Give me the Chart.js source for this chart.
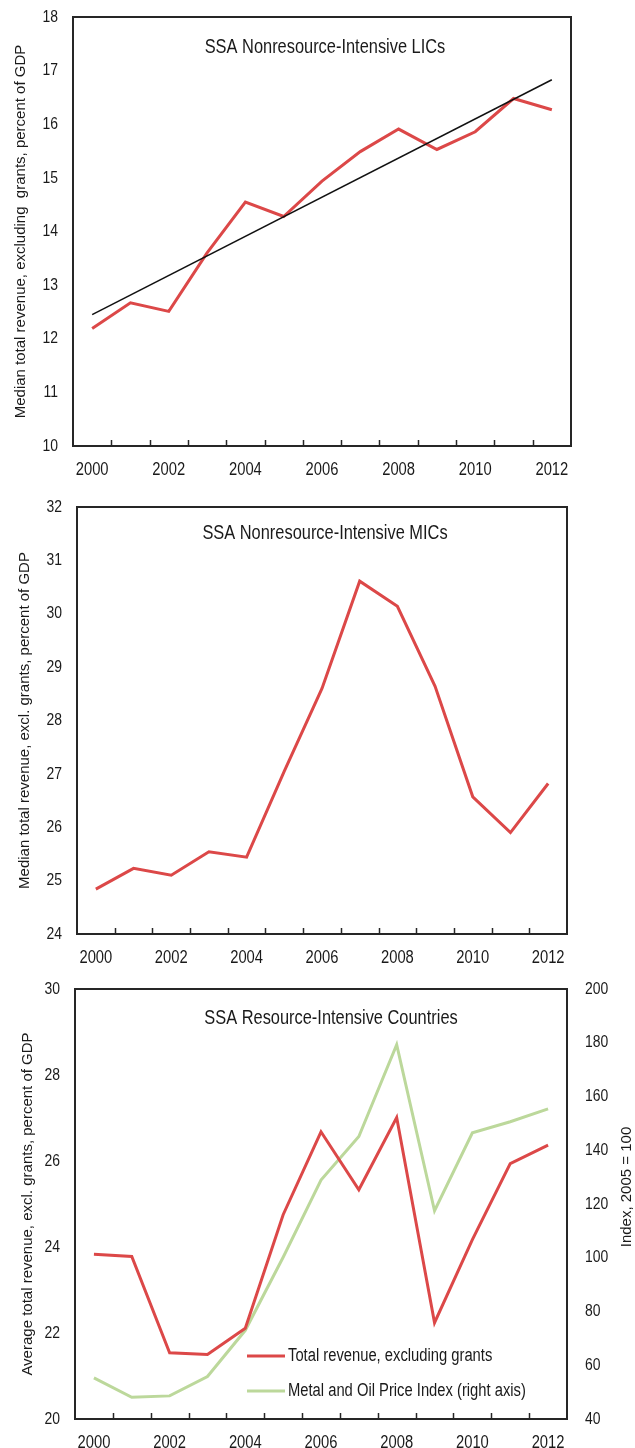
<!DOCTYPE html>
<html><head><meta charset="utf-8">
<script src="https://cdn.jsdelivr.net/npm/chart.js@4.4.1/dist/chart.umd.min.js"></script>
<style>
html,body{margin:0;padding:0;background:#fff;}
#wrap{position:relative;width:635px;height:1448px;overflow:hidden;background:#fff;}
.panel{position:absolute;left:0;width:635px;}
</style></head><body>
<div id="wrap">
<div class="panel" style="top:0;height:485px"><canvas id="c1" width="635" height="485"></canvas></div>
<div class="panel" style="top:485px;height:485px"><canvas id="c2" width="635" height="485"></canvas></div>
<div class="panel" style="top:970px;height:478px"><canvas id="c3" width="635" height="478"></canvas></div>
</div>
<script>
// ---------- data ----------
const years = ['2000','2001','2002','2003','2004','2005','2006','2007','2008','2009','2010','2011','2012'];

const licRevenue = [12.19, 12.67, 12.51, 13.6, 14.55, 14.28, 14.94, 15.49, 15.91, 15.53, 15.86, 16.48, 16.27];
const licTrend   = [12.45, null, null, null, null, null, null, null, null, null, null, null, 16.83];

const micRevenue = [24.84, 25.23, 25.10, 25.54, 25.44, 27.05, 28.60, 30.61, 30.14, 28.64, 26.57, 25.90, 26.82];

const resRevenue = [23.83, 23.78, 21.54, 21.50, 22.11, 24.75, 26.68, 25.33, 27.01, 22.24, 24.17, 25.94, 26.37];
const priceIndex = [55.3, 48.1, 48.6, 55.8, 73.0, 100.2, 128.9, 145.1, 179.3, 117.5, 146.5, 150.6, 155.4];

const titles = ['SSA Nonresource-Intensive LICs', 'SSA Nonresource-Intensive MICs', 'SSA Resource-Intensive Countries'];
const yTitles = ['Median total revenue, excluding  grants, percent of GDP',
                 'Median total revenue, excl. grants, percent of GDP',
                 'Average total revenue, excl. grants, percent of GDP'];
const y2Title = 'Index, 2005 = 100';
const seriesNames = ['Total revenue, excluding grants', 'Metal and Oil Price Index (right axis)', 'Linear trend'];

// ---------- styling ----------
const REG = "'Liberation Sans',Arial,sans-serif";
const TXT = '#1a1a1a';
const RED = '#dc4848';
const GREEN = '#bcd89b';
const SQUEEZE = 0.82; // narrow (condensed) look

function narrowText(ctx, text, x, y, size, align) {
  ctx.save();
  ctx.font = size + 'px ' + REG;
  ctx.textAlign = align;
  ctx.textBaseline = 'middle';
  ctx.fillStyle = TXT;
  ctx.translate(x, y);
  ctx.scale(SQUEEZE, 1);
  ctx.fillText(text, 0, 0);
  ctx.restore();
}

const framePlugin = {
  id: 'frame',
  afterDatasetsDraw(chart, args, opts) {
    const {ctx, chartArea: a} = chart;
    const x = chart.scales.x;
    ctx.save();
    ctx.strokeStyle = '#262626';
    ctx.lineWidth = 2;
    ctx.strokeRect(a.left, a.top, a.right - a.left, a.bottom - a.top);
    ctx.lineWidth = 1.5;
    for (let i = 0; i < x.ticks.length - 1; i++) {
      const px = Math.round((x.getPixelForTick(i) + x.getPixelForTick(i + 1)) / 2) + 0.5;
      ctx.beginPath(); ctx.moveTo(px, a.bottom); ctx.lineTo(px, a.bottom - 6); ctx.stroke();
    }
    ctx.restore();
    // x tick labels (every other year)
    x.ticks.forEach((t, i) => {
      if (i % 2 === 0) narrowText(ctx, years[i], x.getPixelForTick(i), a.bottom + 24, 18, 'center');
    });
    // y tick labels
    (opts.yAxes || []).forEach(ax => {
      const s = chart.scales[ax.id];
      s.ticks.forEach(t => {
        const py = s.getPixelForValue(t.value);
        if (ax.side === 'left') narrowText(ctx, String(t.value), a.left - ax.pad, py, 17, 'right');
        else narrowText(ctx, String(t.value), a.right + ax.pad, py, 17, 'left');
      });
    });
    // panel title
    narrowText(ctx, opts.text, (a.left + a.right) / 2 + (opts.dx || 0), a.top + opts.dy, 20, 'center');
    if (opts.rightTitle) {
      ctx.save();
      ctx.fillStyle = TXT;
      ctx.font = '15px ' + REG;
      ctx.textAlign = 'center';
      ctx.textBaseline = 'middle';
      ctx.translate(opts.rightTitle.x, opts.rightTitle.y);
      ctx.rotate(-Math.PI / 2);
      ctx.fillText(opts.rightTitle.text, 0, 0);
      ctx.restore();
    }
    if (opts.legend) {
      chart.data.datasets.forEach((ds, i) => {
        const lx = a.left + opts.legend.dx;
        const ly = a.bottom - opts.legend.dy + i * opts.legend.gap;
        ctx.save();
        ctx.strokeStyle = ds.borderColor;
        ctx.lineWidth = 3;
        ctx.beginPath(); ctx.moveTo(lx, ly); ctx.lineTo(lx + 38, ly); ctx.stroke();
        ctx.restore();
        narrowText(ctx, ds.label, lx + 41, ly, 18, 'left');
      });
    }
  }
};

function xScale(h) {
  return {
    type: 'category', offset: true,
    grid: {display: false}, border: {display: false},
    ticks: {display: false, autoSkip: false},
    afterFit: s => { s.height = h; s.paddingLeft = 0; s.paddingRight = 0; }
  };
}
function yScale(min, max, step, title, tpad, w) {
  return {
    type: 'linear', position: 'left', min, max,
    grid: {display: false, drawTicks: false}, border: {display: false},
    ticks: {display: false, stepSize: step},
    title: {display: true, text: title, color: TXT, font: {family: REG, size: 15}, padding: {top: tpad, bottom: 0}},
    afterFit: s => { s.width = w; s.paddingTop = 0; s.paddingBottom = 0; }
  };
}

// ---------- panel 1 ----------
new Chart(document.getElementById('c1'), {
  type: 'line',
  data: {labels: years, datasets: [
    {label: seriesNames[2], data: licTrend, borderColor: '#111', borderWidth: 1.5, spanGaps: true},
    {label: seriesNames[0], data: licRevenue, borderColor: RED, borderWidth: 3}
  ]},
  options: {
    responsive: false, animation: false,
    elements: {point: {radius: 0}, line: {tension: 0}},
    layout: {padding: {top: 17, right: 64, bottom: 0, left: 0}},
    plugins: {legend: {display: false}, tooltip: {enabled: false},
      frame: {text: titles[0], dy: 30, dx: 3, yAxes: [{id: 'y', side: 'left', pad: 15}]}},
    scales: {x: xScale(39), y: yScale(10, 18, 1, yTitles[0], 12, 73)}
  },
  plugins: [framePlugin]
});

// ---------- panel 2 ----------
new Chart(document.getElementById('c2'), {
  type: 'line',
  data: {labels: years, datasets: [
    {label: seriesNames[0], data: micRevenue, borderColor: RED, borderWidth: 3}
  ]},
  options: {
    responsive: false, animation: false,
    elements: {point: {radius: 0}, line: {tension: 0}},
    layout: {padding: {top: 22, right: 68, bottom: 0, left: 0}},
    plugins: {legend: {display: false}, tooltip: {enabled: false},
      frame: {text: titles[1], dy: 26, dx: 3, yAxes: [{id: 'y', side: 'left', pad: 15}]}},
    scales: {x: xScale(36), y: yScale(24, 32, 1, yTitles[1], 16, 77)}
  },
  plugins: [framePlugin]
});

// ---------- panel 3 ----------
new Chart(document.getElementById('c3'), {
  type: 'line',
  data: {labels: years, datasets: [
    {label: seriesNames[0], data: resRevenue, borderColor: RED, borderWidth: 3, yAxisID: 'y'},
    {label: seriesNames[1], data: priceIndex, borderColor: GREEN, borderWidth: 3, yAxisID: 'y2'}
  ]},
  options: {
    responsive: false, animation: false,
    elements: {point: {radius: 0}, line: {tension: 0}},
    layout: {padding: {top: 19, right: 0, bottom: 0, left: 0}},
    plugins: {legend: {display: false}, tooltip: {enabled: false},
      frame: {text: titles[2], dy: 29, dx: 10,
              yAxes: [{id: 'y', side: 'left', pad: 15}, {id: 'y2', side: 'right', pad: 18}],
              rightTitle: {text: y2Title, x: 627, y: 217},
              legend: {dx: 172, dy: 63, gap: 35}}},
    scales: {
      x: xScale(29),
      y: yScale(20, 30, 2, yTitles[2], 19, 75),
      y2: {type: 'linear', position: 'right', min: 40, max: 200,
           grid: {display: false, drawTicks: false}, border: {display: false},
           ticks: {display: false, stepSize: 20},
           afterFit: s => { s.width = 68; s.paddingTop = 0; s.paddingBottom = 0; }}
    }
  },
  plugins: [framePlugin]
});
</script>
</body></html>
